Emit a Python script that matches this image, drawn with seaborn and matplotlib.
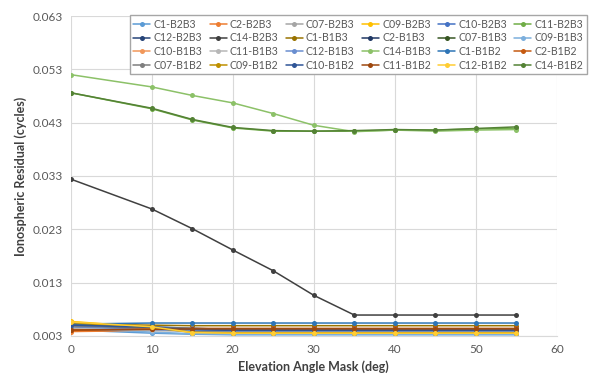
import pandas as pd
import matplotlib.pyplot as plt
import seaborn as sns

# elevation mask (deg)
elev_mask = [0, 10, 15, 20, 25, 30, 35, 40, 45, 50, 55]

# ionospheric residuals (cycles)
c1_b2b3 = [0.0041, 0.0035, 0.0033, 0.0032, 0.0032, 0.0032, 0.0032, 0.0032, 0.0032, 0.0032, 0.0032]
c2_b2b3 = [0.0038, 0.0040, 0.0041, 0.0041, 0.0041, 0.0041, 0.0041, 0.0041, 0.0041, 0.0041, 0.0041]
c07_b2b3 = [0.0047, 0.0043, 0.0040, 0.0038, 0.0038, 0.0038, 0.0038, 0.0038, 0.0038, 0.0038, 0.0038]
c09_b2b3 = [0.0057, 0.0046, 0.0036, 0.0035, 0.0035, 0.0035, 0.0035, 0.0035, 0.0035, 0.0035, 0.0035]
c10_b2b3 = [0.0050, 0.0045, 0.0041, 0.0040, 0.0040, 0.0040, 0.0040, 0.0040, 0.0040, 0.0040, 0.0040]
c11_b2b3 = [0.0486, 0.0456, 0.0435, 0.0420, 0.0414, 0.0414, 0.0414, 0.0416, 0.0416, 0.0418, 0.0419]
c12_b2b3 = [0.0049, 0.0047, 0.0044, 0.0042, 0.0042, 0.0042, 0.0042, 0.0042, 0.0042, 0.0042, 0.0042]
c14_b2b3 = [0.0324, 0.0268, 0.0231, 0.0191, 0.0152, 0.0106, 0.0069, 0.0069, 0.0069, 0.0069, 0.0069]
c1_b1b3 = [0.0052, 0.0050, 0.0049, 0.0049, 0.0049, 0.0049, 0.0049, 0.0049, 0.0049, 0.0049, 0.0049]
c2_b1b3 = [0.0048, 0.0045, 0.0042, 0.0040, 0.0040, 0.0040, 0.0040, 0.0040, 0.0040, 0.0040, 0.0040]
c07_b1b3 = [0.0046, 0.0044, 0.0043, 0.0043, 0.0043, 0.0043, 0.0043, 0.0043, 0.0043, 0.0043, 0.0043]
c09_b1b3 = [0.0044, 0.0037, 0.0034, 0.0033, 0.0033, 0.0033, 0.0033, 0.0033, 0.0033, 0.0033, 0.0033]
c10_b1b3 = [0.0042, 0.0042, 0.0042, 0.0042, 0.0042, 0.0042, 0.0042, 0.0042, 0.0042, 0.0042, 0.0042]
c11_b1b3 = [0.0045, 0.0040, 0.0038, 0.0037, 0.0037, 0.0037, 0.0037, 0.0037, 0.0037, 0.0037, 0.0037]
c12_b1b3 = [0.0047, 0.0042, 0.0039, 0.0038, 0.0038, 0.0038, 0.0038, 0.0038, 0.0038, 0.0038, 0.0038]
c14_b1b3 = [0.0520, 0.0497, 0.0481, 0.0467, 0.0447, 0.0425, 0.0413, 0.0416, 0.0414, 0.0416, 0.0417]
c1_b1b2 = [0.0052, 0.0054, 0.0054, 0.0054, 0.0054, 0.0054, 0.0054, 0.0054, 0.0054, 0.0054, 0.0054]
c2_b1b2 = [0.0040, 0.0043, 0.0044, 0.0044, 0.0044, 0.0044, 0.0044, 0.0044, 0.0044, 0.0044, 0.0044]
c07_b1b2 = [0.0048, 0.0046, 0.0044, 0.0042, 0.0042, 0.0042, 0.0042, 0.0042, 0.0042, 0.0042, 0.0042]
c09_b1b2 = [0.0055, 0.0045, 0.0037, 0.0036, 0.0036, 0.0036, 0.0036, 0.0036, 0.0036, 0.0036, 0.0036]
c10_b1b2 = [0.0050, 0.0046, 0.0042, 0.0041, 0.0041, 0.0041, 0.0041, 0.0041, 0.0041, 0.0041, 0.0041]
c11_b1b2 = [0.0041, 0.0042, 0.0043, 0.0043, 0.0043, 0.0043, 0.0043, 0.0043, 0.0043, 0.0043, 0.0043]
c12_b1b2 = [0.0056, 0.0047, 0.0036, 0.0035, 0.0035, 0.0035, 0.0035, 0.0035, 0.0035, 0.0035, 0.0035]
c14_b1b2 = [0.0486, 0.0457, 0.0436, 0.0421, 0.0415, 0.0414, 0.0415, 0.0417, 0.0416, 0.0419, 0.0422]

series_names = ['C1-B2B3', 'C2-B2B3', 'C07-B2B3', 'C09-B2B3', 'C10-B2B3', 'C11-B2B3',
                'C12-B2B3', 'C14-B2B3', 'C1-B1B3', 'C2-B1B3', 'C07-B1B3', 'C09-B1B3',
                'C10-B1B3', 'C11-B1B3', 'C12-B1B3', 'C14-B1B3', 'C1-B1B2', 'C2-B1B2',
                'C07-B1B2', 'C09-B1B2', 'C10-B1B2', 'C11-B1B2', 'C12-B1B2', 'C14-B1B2']
series_values = [c1_b2b3, c2_b2b3, c07_b2b3, c09_b2b3, c10_b2b3, c11_b2b3,
                 c12_b2b3, c14_b2b3, c1_b1b3, c2_b1b3, c07_b1b3, c09_b1b3,
                 c10_b1b3, c11_b1b3, c12_b1b3, c14_b1b3, c1_b1b2, c2_b1b2,
                 c07_b1b2, c09_b1b2, c10_b1b2, c11_b1b2, c12_b1b2, c14_b1b2]
series_colors = ['#5B9BD5', '#ED7D31', '#A5A5A5', '#FFC000', '#4472C4', '#70AD47',
                 '#264478', '#404040', '#997300', '#203864', '#375623', '#7CAFDD',
                 '#F1975A', '#B7B7B7', '#698ED0', '#8CC168', '#2E75B6', '#C55A11',
                 '#7F7F7F', '#BF9000', '#2F5597', '#9E480E', '#FFCD33', '#548235']

rows = []
for name, vals in zip(series_names, series_values):
    for x, v in zip(elev_mask, vals):
        rows.append({'mask': x, 'resid': v, 'series': name})
df = pd.DataFrame(rows)

sns.set_style('whitegrid')
plt.rcParams['font.family'] = ['Lato', 'DejaVu Sans']

fig = plt.figure(figsize=(6, 3.86), dpi=100)
ax = fig.add_axes([0.118, 0.130, 0.810, 0.8285])

sns.lineplot(data=df, x='mask', y='resid', hue='series', hue_order=series_names,
             palette=series_colors, marker='o', markersize=3.6, markeredgewidth=0,
             linewidth=1.1, ax=ax, legend=True)

ax.set_xlim(0, 60)
ax.set_ylim(0.003, 0.063)
ax.set_xticks(range(0, 61, 10))
ax.set_yticks([0.003, 0.013, 0.023, 0.033, 0.043, 0.053, 0.063])
ax.set_yticklabels(['0.003', '0.013', '0.023', '0.033', '0.043', '0.053', '0.063'])
ax.grid(True, color='#D9D9D9', linewidth=0.8)
for s in ['left', 'top', 'right']:
    ax.spines[s].set_visible(False)
ax.spines['bottom'].set_color('#D9D9D9')
ax.tick_params(axis='both', labelsize=8.5, colors='#595959', length=0, pad=6)
ax.set_xlabel('Elevation Angle Mask (deg)', fontsize=9, fontweight='bold', color='#404040')
ax.set_ylabel('Ionospheric Residual (cycles)', fontsize=9, fontweight='bold', color='#404040')

# legend row-major like the original
handles, labels = ax.get_legend_handles_labels()
ax.get_legend().remove()
order = [r * 6 + c for c in range(6) for r in range(4)]
leg = fig.legend([handles[i] for i in order], [labels[i] for i in order],
                 ncol=6, loc='upper right', bbox_to_anchor=(0.987, 0.975),
                 fontsize=7.6, frameon=True, fancybox=False, framealpha=1,
                 edgecolor='#A6A6A6', handlelength=1.6, handletextpad=0.3,
                 columnspacing=0.7, labelspacing=0.25, borderpad=0.35)
for t in leg.get_texts():
    t.set_color('#595959')

fig.savefig('out.png', dpi=100)
